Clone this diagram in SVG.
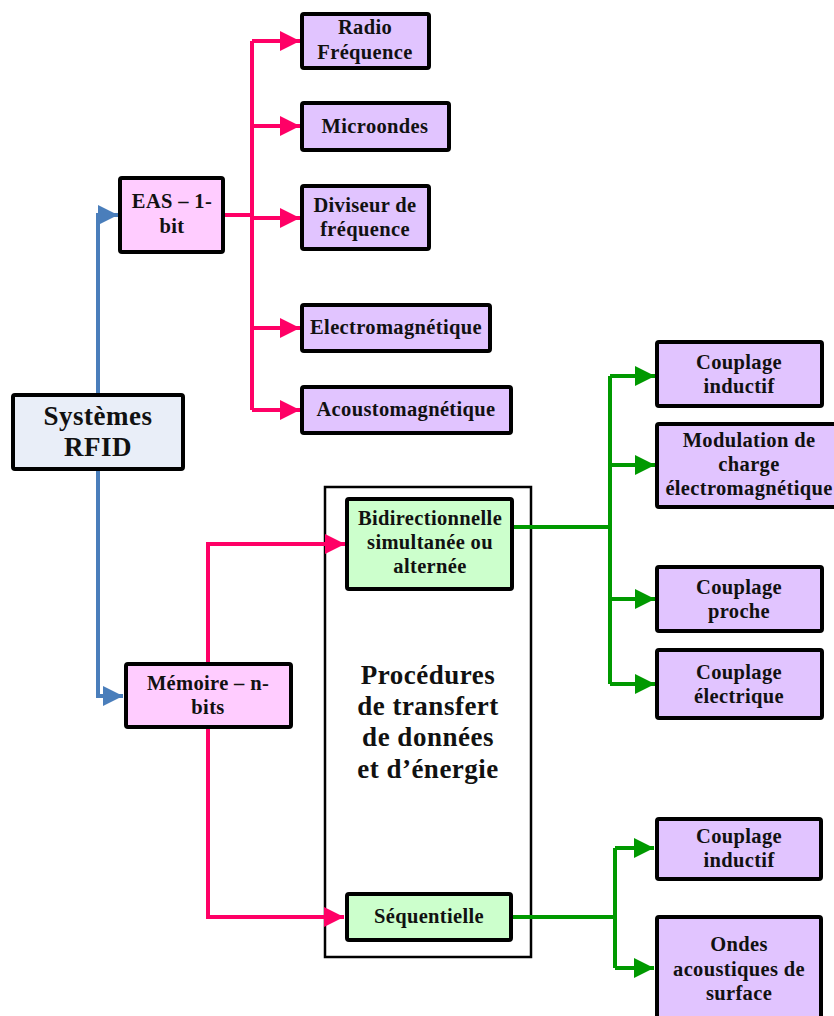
<svg xmlns="http://www.w3.org/2000/svg" width="834" height="1016" viewBox="0 0 834 1016">
<style>
.b{stroke:#000;stroke-width:4;rx:2}
.p{fill:#e1c4ff}.k{fill:#ffccff}.g{fill:#ccffcc}.s{fill:#e9eef8}
text{font-family:"Liberation Serif","DejaVu Serif",serif;font-weight:bold;font-size:20.5px;letter-spacing:0.35px;fill:#111;text-anchor:middle}
.big{font-size:27px;letter-spacing:0.5px}
.cp{fill:none;stroke:#ff0066;stroke-width:4}
.cb{fill:none;stroke:#4a7ebb;stroke-width:4}
.cg{fill:none;stroke:#009900;stroke-width:4}
</style>
<defs>
<marker id="ap" markerWidth="6" markerHeight="6" refX="5" refY="3" orient="auto" markerUnits="strokeWidth"><path d="M0,0.5 L5,3 L0,5.5z" fill="#ff0066"/></marker>
<marker id="ab" markerWidth="6" markerHeight="6" refX="5" refY="3" orient="auto" markerUnits="strokeWidth"><path d="M0,0.5 L5,3 L0,5.5z" fill="#4a7ebb"/></marker>
<marker id="ag" markerWidth="6" markerHeight="6" refX="5" refY="3" orient="auto" markerUnits="strokeWidth"><path d="M0,0.5 L5,3 L0,5.5z" fill="#009900"/></marker>
</defs>
<g id="container"><rect x="325" y="487" width="206" height="470" fill="none" stroke="#000" stroke-width="2.5"/>
<text class="big" x="428" y="684">Procédures</text><text class="big" x="428" y="715">de transfert</text><text class="big" x="428" y="746">de données</text><text class="big" x="428" y="778">et d’énergie</text></g>
<g id="connectors">
<path class="cb" d="M98,395 V215 H118" marker-end="url(#ab)"/>
<path class="cb" d="M98,469 V696 H123" marker-end="url(#ab)"/>
<path class="cp" d="M223,215 H252"/>
<path class="cp" d="M252,41 V410"/>
<path class="cp" d="M252,41 H300" marker-end="url(#ap)"/>
<path class="cp" d="M252,126 H300" marker-end="url(#ap)"/>
<path class="cp" d="M252,218 H300" marker-end="url(#ap)"/>
<path class="cp" d="M252,328 H300" marker-end="url(#ap)"/>
<path class="cp" d="M252,410 H300" marker-end="url(#ap)"/>
<path class="cp" d="M208,663 V544 H345" marker-end="url(#ap)"/>
<path class="cp" d="M208,727 V917 H344" marker-end="url(#ap)"/>
<path class="cg" d="M512,527 H610"/>
<path class="cg" d="M610,376 V684"/>
<path class="cg" d="M610,376 H655" marker-end="url(#ag)"/>
<path class="cg" d="M610,465 H655" marker-end="url(#ag)"/>
<path class="cg" d="M610,599 H655" marker-end="url(#ag)"/>
<path class="cg" d="M610,684 H655" marker-end="url(#ag)"/>
<path class="cg" d="M512,917 H615"/>
<path class="cg" d="M615,848 V968"/>
<path class="cg" d="M615,848 H654" marker-end="url(#ag)"/>
<path class="cg" d="M615,968 H654" marker-end="url(#ag)"/>
</g>
<g id="rfid"><rect class="b s" x="13" y="395" width="170" height="74"/><text class="big" x="98" y="425">Systèmes</text><text class="big" x="98" y="456">RFID</text></g>
<g id="eas"><rect class="b k" x="120" y="178" width="103" height="74"/><text x="172" y="208">EAS – 1-</text><text x="172" y="233">bit</text></g>
<g id="radio"><rect class="b p" x="302" y="14" width="127" height="54"/><text x="365" y="34">Radio</text><text x="365" y="59">Fréquence</text></g>
<g id="micro"><rect class="b p" x="302" y="103" width="147" height="47"/><text x="375" y="133">Microondes</text></g>
<g id="diviseur"><rect class="b p" x="302" y="186" width="127" height="63"/><text x="365" y="212">Diviseur de</text><text x="365" y="236">fréquence</text></g>
<g id="electro"><rect class="b p" x="302" y="305" width="188" height="46"/><text x="396" y="334">Electromagnétique</text></g>
<g id="acousto"><rect class="b p" x="302" y="387" width="209" height="46"/><text x="406" y="416">Acoustomagnétique</text></g>
<g id="memoire"><rect class="b k" x="126" y="664" width="165" height="63"/><text x="208" y="690">Mémoire – n-</text><text x="208" y="714">bits</text></g>
<g id="bidir"><rect class="b g" x="347" y="499" width="165" height="90"/><text x="430" y="525">Bidirectionnelle</text><text x="430" y="549">simultanée ou</text><text x="430" y="573">alternée</text></g>
<g id="seq"><rect class="b g" x="347" y="894" width="164" height="46"/><text x="429" y="923">Séquentielle</text></g>
<g id="ci1"><rect class="b p" x="657" y="342" width="165" height="64"/><text x="739" y="369">Couplage</text><text x="739" y="393">inductif</text></g>
<g id="modul"><rect class="b p" x="657" y="424" width="180" height="83"/><text x="749" y="447">Modulation de</text><text x="749" y="471">charge</text><text x="749" y="495">électromagnétique</text></g>
<g id="proche"><rect class="b p" x="657" y="567" width="165" height="64"/><text x="739" y="594">Couplage</text><text x="739" y="618">proche</text></g>
<g id="electrique"><rect class="b p" x="657" y="650" width="165" height="68"/><text x="739" y="679">Couplage</text><text x="739" y="703">électrique</text></g>
<g id="ci2"><rect class="b p" x="657" y="819" width="164" height="60"/><text x="739" y="843">Couplage</text><text x="739" y="867">inductif</text></g>
<g id="ondes"><rect class="b p" x="657" y="917" width="164" height="110"/><text x="739" y="951">Ondes</text><text x="739" y="976">acoustiques de</text><text x="739" y="1000">surface</text></g>
</svg>
